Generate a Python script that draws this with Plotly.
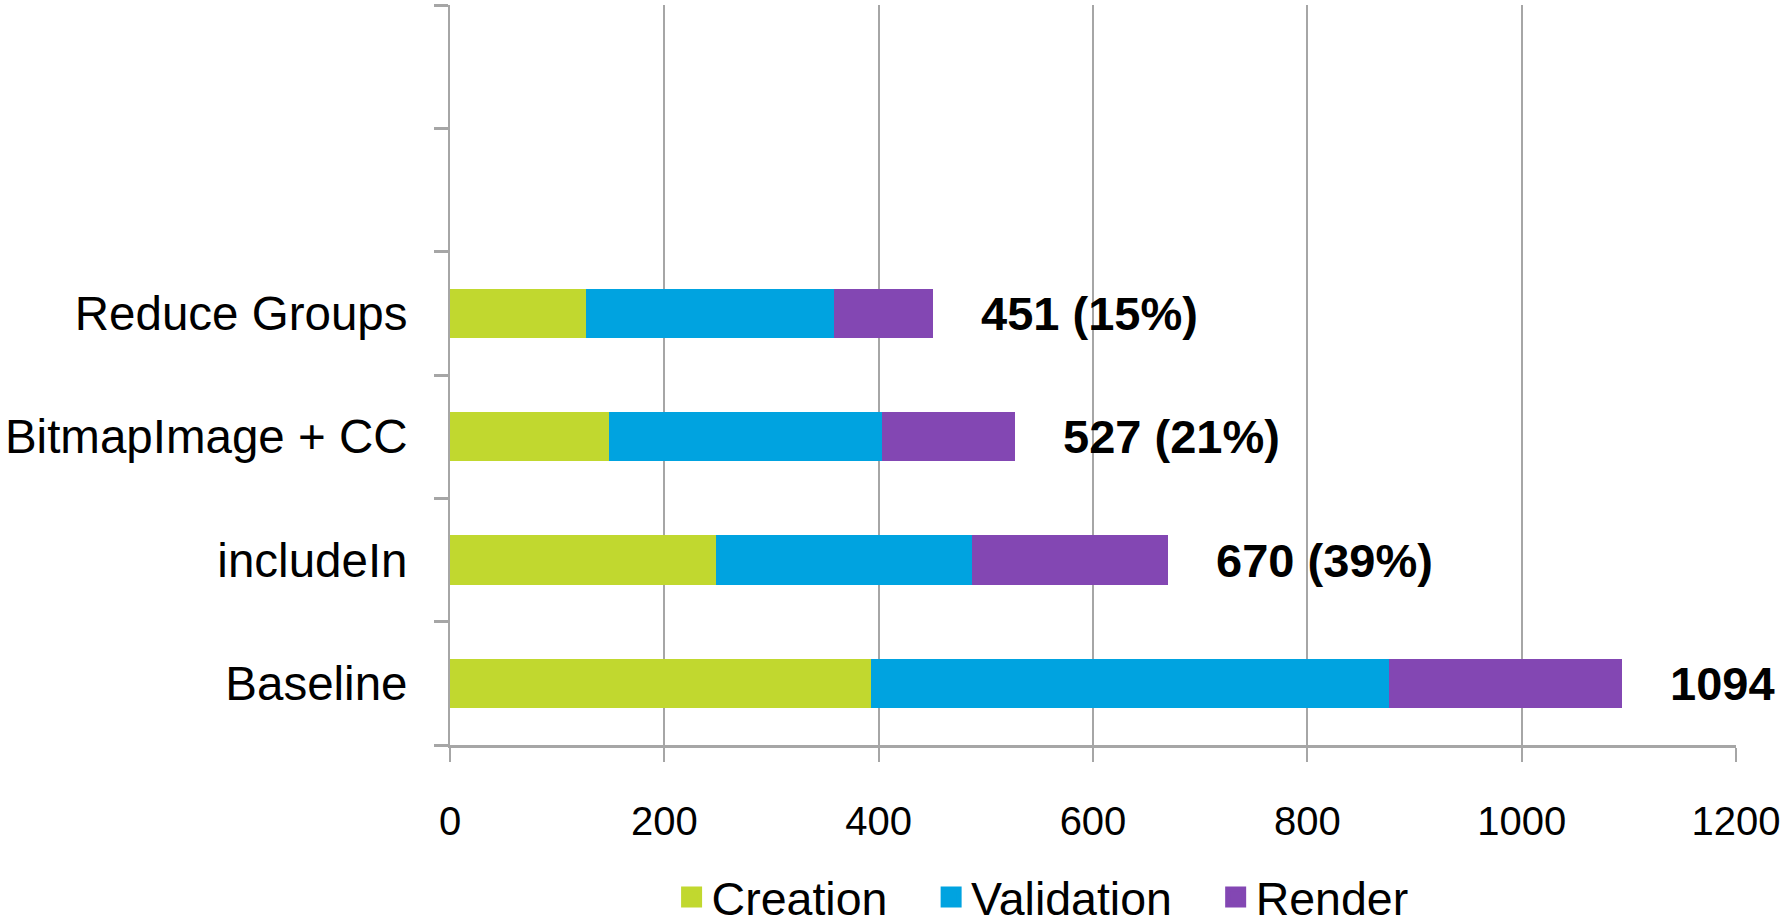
import plotly.graph_objects as go

categories = ["Baseline", "includeIn", "BitmapImage + CC", "Reduce Groups"]
empty_slots = [" ", "  "]
creation = [393, 248, 148, 127]
validation = [483, 239, 255, 231]
render = [218, 183, 124, 93]
totals = [1094, 670, 527, 451]
total_labels = ["1094", "670 (39%)", "527 (21%)", "451 (15%)"]
x_ticks = [0, 200, 400, 600, 800, 1000, 1200]

series = [
    ("Creation", creation, "#C1D82F"),
    ("Validation", validation, "#00A3E0"),
    ("Render", render, "#8347B3"),
]

fig = go.Figure()
for name, vals, color in series:
    fig.add_trace(go.Bar(
        y=categories, x=vals, name=name, orientation="h", showlegend=False,
        marker=dict(color=color, line=dict(width=0)),
    ))

# legend entries with larger square keys (trailing spaces widen the item gap)
pad = "\u00a0\u00a0\u00a0"
for i, (name, vals, color) in enumerate(series):
    fig.add_trace(go.Scatter(
        x=[None], y=[None], mode="markers",
        name=name + (pad if i < len(series) - 1 else ""),
        marker=dict(symbol="square", size=16, color=color,
                    line=dict(color=color, width=5)),
    ))

# placeholder (empty) category slots at top
fig.add_trace(go.Bar(y=empty_slots, x=[0, 0], orientation="h",
                     showlegend=False, hoverinfo="skip",
                     marker=dict(color="rgba(0,0,0,0)", line=dict(width=0))))

for cat, tot, lab in zip(categories, totals, total_labels):
    fig.add_annotation(x=tot, y=cat, text="<b>" + lab + "</b>", showarrow=False,
                       xanchor="left", yanchor="middle", xshift=46,
                       font=dict(family="Liberation Sans, Arial", size=47, color="black"))

fig.update_layout(
    barmode="stack",
    bargap=0.6,
    width=1789, height=924,
    margin=dict(l=450, r=53, t=5, b=179),
    paper_bgcolor="white", plot_bgcolor="white",
    font=dict(family="Liberation Sans, Arial", color="black"),
    legend=dict(orientation="h", xref="container", yref="container",
                x=0.3754, xanchor="left", y=0.029, yanchor="middle",
                font=dict(size=46.5), itemwidth=30, traceorder="normal"),
    xaxis=dict(range=[0, 1200], tickvals=x_ticks, showgrid=True, gridcolor="#A6A6A6",
               gridwidth=1.5, zeroline=False, showline=True, linecolor="#A6A6A6",
               linewidth=3, ticks="outside", ticklen=14, tickcolor="#A6A6A6", tickwidth=1.5,
               tickfont=dict(size=40), ticklabelstandoff=25, automargin=False),
    yaxis=dict(type="category", categoryorder="array",
               categoryarray=categories + empty_slots, range=[-0.5, 5.5],
               tickson="boundaries", ticks="outside", ticklen=14, tickcolor="#A6A6A6",
               tickwidth=2.5, showgrid=False, showline=True, linecolor="#A6A6A6",
               linewidth=2, zeroline=False, tickfont=dict(size=47.5),
               ticklabelstandoff=31, automargin=False),
)

fig.write_html("out.html", config={"displayModeBar": False},
               post_script="document.body.style.margin='0';")
